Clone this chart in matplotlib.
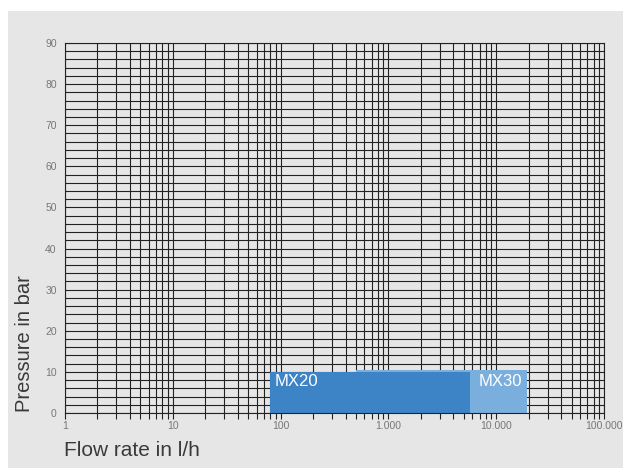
import matplotlib
matplotlib.use("Agg")
import matplotlib.pyplot as plt
from matplotlib.ticker import FixedLocator, MultipleLocator, LogLocator, NullFormatter
from matplotlib.patches import Rectangle

# ranges of the two pump types (flow in l/h, max pressure in bar)
series = ["MX20", "MX30"]
flow_min = [80, 500]
flow_max = [5700, 19500]
pressure_max = [10, 10.4]
colors = ["#3d84c6", "#7aaedd"]

xticks = [1, 10, 100, 1000, 10000, 100000]
xlabels = ["1", "10", "100", "1.000", "10.000", "100.000"]
yticks = list(range(0, 91, 10))

plt.rcParams["font.family"] = ["Liberation Sans", "DejaVu Sans"]

fig = plt.figure(figsize=(6.23, 4.68), dpi=100)
fig.patch.set_facecolor("white")
fig.patches.append(Rectangle((8 / 623, 0), 1, 1 - 11 / 468, transform=fig.transFigure,
                             facecolor="#e6e6e7", edgecolor="none", zorder=-10))

ax = fig.add_axes([65 / 623, 55 / 468, 539 / 623, 370 / 468])
ax.set_facecolor("#e6e6e7")
ax.set_xscale("log")
ax.set_xlim(1, 100000)
ax.set_ylim(0, 90)

# bars: light one behind the dark one
for i in [1, 0]:
    ax.fill_between([flow_min[i], flow_max[i]], 0, pressure_max[i],
                    color=colors[i], lw=0, zorder=3 + (1 - i))
label_x = [88, 6800]
for i in range(2):
    ax.text(label_x[i], pressure_max[0] - 0.5, series[i],
            color="white", fontsize=12, va="top", ha="left", zorder=6)

ax.xaxis.set_major_locator(FixedLocator(xticks))
ax.xaxis.set_minor_locator(LogLocator(base=10, subs=range(2, 10), numticks=20))
ax.xaxis.set_minor_formatter(NullFormatter())
ax.set_xticks(xticks)
ax.set_xticklabels(xlabels)
ax.set_yticks(yticks)
ax.yaxis.set_minor_locator(MultipleLocator(2))

ax.grid(which="both", color="#222222", lw=0.8, zorder=2)
ax.set_axisbelow(False)
for sp in ax.spines.values():
    sp.set_color("#222222")
    sp.set_linewidth(0.8)
    sp.set_zorder(7)

ax.tick_params(axis="x", which="both", direction="out", length=4, width=0.8,
               color="#222222", labelsize=7.5, labelcolor="#777777", pad=2)
ax.tick_params(axis="y", which="both", length=0, labelsize=7.5,
               labelcolor="#777777", pad=6)

fig.text(25 / 623, 56 / 468, "Pressure in bar", rotation=90, fontsize=14.5,
         color="#3a3a3a", va="bottom", ha="center")
fig.text(64 / 623, 17 / 468, "Flow rate in l/h", fontsize=15,
         color="#3a3a3a", va="center", ha="left")

fig.savefig("out.png", dpi=100, facecolor=fig.get_facecolor())
